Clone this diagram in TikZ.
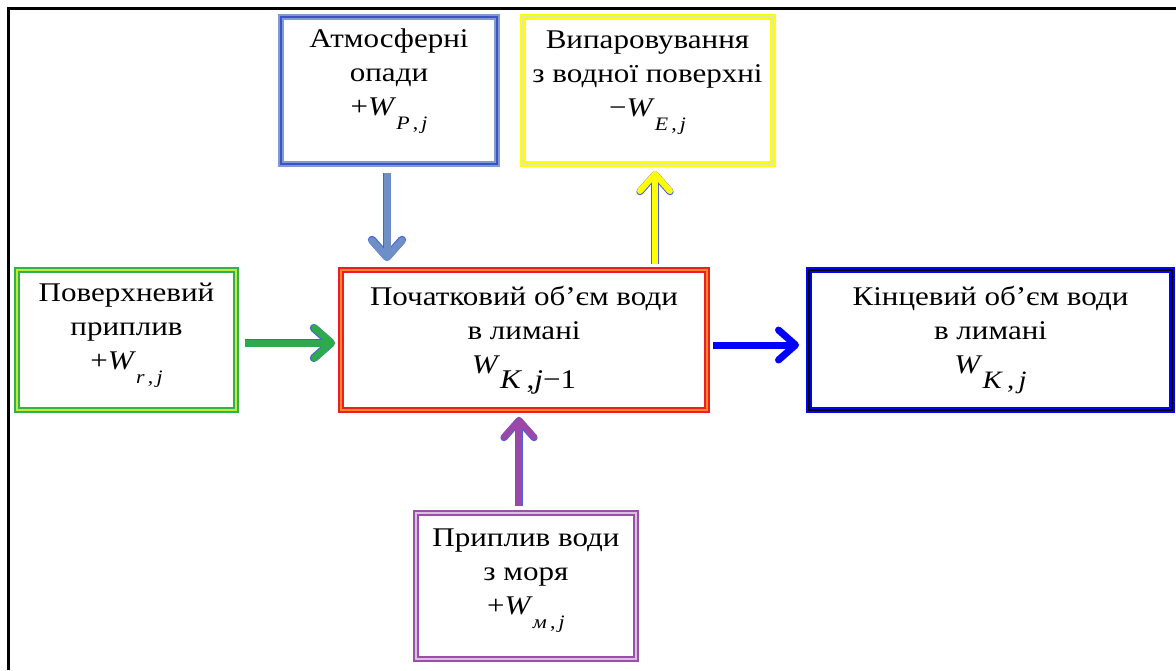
\documentclass[tikz,border=0pt]{standalone}
\usepackage{fontspec}
\setmainfont{Liberation Serif}
\newfontfamily\lserif[FakeStretch=1.15]{Liberation Serif}
\usetikzlibrary{arrows.meta}
\definecolor{atmL}{HTML}{7E9CCF}
\definecolor{atmD}{HTML}{3F51C9}
\definecolor{atmA}{HTML}{6D8EC7}
\definecolor{yel}{HTML}{FFFF00}
\definecolor{yelM}{HTML}{E6E6B0}
\definecolor{grn}{HTML}{2EB24B}
\definecolor{grnM}{HTML}{C6E83A}
\definecolor{grnA}{HTML}{2DAA4C}
\definecolor{redB}{HTML}{EE1C24}
\definecolor{redM}{HTML}{FF8A22}
\definecolor{bluB}{HTML}{0000FF}
\definecolor{pur}{HTML}{9C4FA9}
\definecolor{purM}{HTML}{DCC0E4}
\definecolor{purA}{HTML}{9B48A8}
\definecolor{edge}{HTML}{4A5FE0}
\newcommand{\Wsb}[3]{\textit{W}\raisebox{-#3}{\fontsize{#2}{#2}\selectfont #1}}
\newcommand{\lowstrut}[1]{\rule[-#1]{0pt}{#1}}
\tikzset{
  tribox/.style 2 args={draw=#1, double=#2, line width=2pt, double distance=2pt,
    fill=white, align=center, inner sep=0pt, font=\lserif\fontsize{27}{34}\selectfont},
  flow/.style={draw=#1, line width=7pt,
    -{Straight Barb[length=17pt,width=30pt,round]}},
  oflow/.style 2 args={draw=#1, line width=#2,
    -{Straight Barb[length=17pt,width=30pt,round]},
    preaction={draw=edge, line width=#2+1.2pt,
    -{Straight Barb[length=17pt,width=30pt,round]}}},
}
\begin{document}
\begin{tikzpicture}[x=1pt,y=-1pt]
\useasboundingbox (0,0) rectangle (1176,670);
\draw[line width=3pt] (8.5,670) -- (8.5,8.5) -- (1176,8.5);

\node[tribox={atmL}{atmD}, minimum width=216pt, minimum height=147pt] (atm) at (389,90.5)
  {Атмосферні\\опади\\+\Wsb{\textit{P}\,,\,\textit{j}}{19}{14pt}\lowstrut{36pt}};
\node[tribox={yel}{yelM}, minimum width=250pt, minimum height=147pt] (evp) at (647.5,90.5)
  {Випаровування\\з водної поверхні\\−\Wsb{\textit{E}\,,\,\textit{j}}{19}{14pt}\lowstrut{33pt}};
\node[tribox={grn}{grnM}, minimum width=219pt, minimum height=140pt] (sur) at (126.5,340)
  {Поверхневий\\приплив\\+\Wsb{\textit{r}\,,\,\textit{j}}{19}{14pt}\lowstrut{28pt}};
\node[tribox={redB}{redM}, minimum width=366pt, minimum height=140pt] (ini) at (524,340)
  {Початковий об’єм води\\в лимані\\\Wsb{\textit{K}\,,\textit{j}−1}{27}{15pt}};
\node[tribox={bluB}{black}, minimum width=363pt, minimum height=140pt] (fin) at (990.5,340)
  {Кінцевий об’єм води\\в лимані\\\Wsb{\textit{K}\,,\,\textit{j}}{25}{15pt}};
\node[tribox={pur}{purM}, minimum width=220pt, minimum height=146pt] (sea) at (526,586)
  {Приплив води\\з моря\\+\Wsb{\textit{м}\,,\,\textit{j}}{19}{14pt}\lowstrut{28pt}};

\draw[oflow={atmA}{7pt}] ([xshift=-2pt,yshift=-8pt]atm.south) -- ([xshift=-2pt,yshift=8pt]atm.south |- ini.north);
\draw[oflow={yel}{6pt}] ([xshift=7.5pt,yshift=5pt]evp.south |- ini.north) -- ([xshift=7.5pt,yshift=-6pt]evp.south);
\draw[oflow={grnA}{7pt}] ([xshift=8pt,yshift=-3pt]sur.east) -- ([xshift=-5pt,yshift=-3pt]ini.west);
\draw[flow=bluB] ([xshift=5pt,yshift=-5pt]ini.east) -- ([xshift=-9pt,yshift=-5pt]fin.west);
\draw[oflow={purA}{6pt}] ([xshift=-7pt,yshift=6pt]sea.north) -- ([xshift=-7pt,yshift=-6pt]sea.north |- ini.south);
\end{tikzpicture}
\end{document}
